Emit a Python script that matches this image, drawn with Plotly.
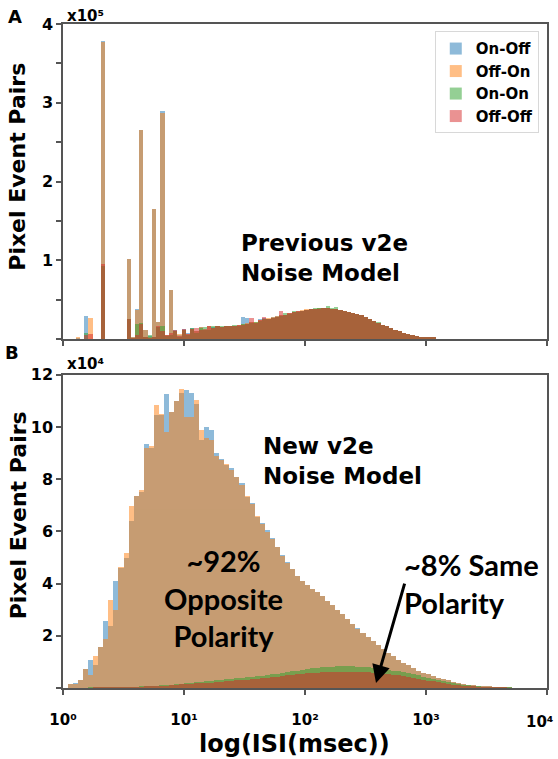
import numpy as np
import plotly.graph_objects as go

series = ["On-Off", "Off-On", "On-On", "Off-Off"]
colors = ["#1f77b4", "#ff7f0e", "#2ca02c", "#d62728"]

# panel A bins (log10 ISI), counts in units of 1e5
top_bin_width = 0.035
top_first_center = 0.0175

top_on_off = [
    0, 0, 0, 0.01, 0, 0.29, 0, 0, 0, 3.79,
    0, 0, 0, 0, 0, 1.02, 0.02, 0.38, 2.65, 0.11,
    0.04, 1.65, 0.22, 2.89, 0.05, 0.62, 0.11, 0.05, 0.13, 0.07,
    0.14, 0.10, 0.15, 0.12, 0.16, 0.15, 0.16, 0.15, 0.16, 0.17,
    0.17, 0.18, 0.28, 0.27, 0.21, 0.20, 0.25, 0.27, 0.25, 0.28,
    0.29, 0.30, 0.31, 0.33, 0.34, 0.35, 0.36, 0.37, 0.38, 0.38,
    0.39, 0.39, 0.39, 0.38, 0.38, 0.37, 0.36, 0.34, 0.33, 0.32,
    0.30, 0.28, 0.25, 0.23, 0.20, 0.18, 0.16, 0.14, 0.12, 0.10,
    0.08, 0.065, 0.05, 0.04, 0.03, 0.02, 0.02, 0.015, 0]
top_off_on = [
    0, 0, 0, 0.015, 0, 0, 0.27, 0, 0, 3.77,
    0, 0, 0, 0, 0, 1.02, 0.02, 0.37, 2.65, 0.11,
    0.03, 1.65, 0.22, 2.87, 0.05, 0.62, 0.10, 0.06, 0.12, 0.06,
    0.13, 0.10, 0.15, 0.11, 0.16, 0.14, 0.16, 0.15, 0.16, 0.17,
    0.16, 0.18, 0.19, 0.20, 0.21, 0.21, 0.24, 0.26, 0.27, 0.28,
    0.29, 0.30, 0.31, 0.33, 0.34, 0.35, 0.37, 0.38, 0.38, 0.38,
    0.39, 0.39, 0.39, 0.38, 0.38, 0.37, 0.36, 0.34, 0.33, 0.32,
    0.30, 0.28, 0.25, 0.23, 0.20, 0.18, 0.16, 0.14, 0.12, 0.10,
    0.08, 0.065, 0.05, 0.04, 0.03, 0.02, 0.02, 0.015, 0]
top_on_on = [
    0, 0, 0, 0, 0, 0.08, 0, 0, 0, 0.93,
    0, 0, 0, 0, 0, 0.25, 0.01, 0.19, 0.20, 0.03,
    0.05, 0.03, 0.15, 0.16, 0.04, 0.05, 0.10, 0.03, 0.11, 0.05,
    0.14, 0.08, 0.14, 0.15, 0.12, 0.16, 0.16, 0.17, 0.16, 0.16,
    0.18, 0.17, 0.19, 0.19, 0.20, 0.21, 0.23, 0.25, 0.26, 0.27,
    0.28, 0.29, 0.33, 0.32, 0.35, 0.34, 0.36, 0.37, 0.38, 0.39,
    0.39, 0.40, 0.42, 0.39, 0.41, 0.37, 0.35, 0.34, 0.33, 0.32,
    0.30, 0.28, 0.25, 0.23, 0.21, 0.18, 0.16, 0.14, 0.12, 0.10,
    0.08, 0.065, 0.05, 0.04, 0.03, 0.02, 0.02, 0.015, 0]
top_off_off = [
    0, 0, 0, 0, 0, 0.05, 0.06, 0, 0, 0.95,
    0, 0, 0, 0, 0, 0.26, 0.01, 0.05, 0.19, 0.02,
    0.01, 0.03, 0.16, 0.10, 0.05, 0.07, 0.11, 0.04, 0.13, 0.06,
    0.13, 0.14, 0.12, 0.13, 0.16, 0.14, 0.17, 0.15, 0.16, 0.17,
    0.17, 0.18, 0.18, 0.19, 0.27, 0.20, 0.24, 0.28, 0.26, 0.27,
    0.28, 0.35, 0.31, 0.33, 0.34, 0.35, 0.36, 0.37, 0.38, 0.38,
    0.38, 0.39, 0.39, 0.38, 0.38, 0.37, 0.35, 0.34, 0.33, 0.32,
    0.30, 0.28, 0.25, 0.23, 0.20, 0.18, 0.16, 0.14, 0.12, 0.10,
    0.08, 0.065, 0.05, 0.04, 0.03, 0.02, 0.02, 0.015, 0]

# panel B bins: 24 per decade, starting at bin 1; counts in units of 1e4
bins_per_decade = 24
first_bin = 1

bot_on_off = [
    0.18, 0.20, 0.30, 0.72, 1.07, 0.90, 1.57, 2.57, 2.40, 4.10,
    4.60, 5.00, 6.40, 7.35, 7.50, 9.35, 9.20, 10.45, 10.45, 11.27,
    10.60, 11.00, 11.30, 11.42, 11.30, 10.90, 9.50, 10.00, 9.90, 9.00,
    8.80, 8.55, 8.43, 8.10, 7.85, 7.33, 7.10, 6.57, 6.33, 6.06,
    5.75, 5.40, 5.10, 4.82, 4.55, 4.32, 4.10, 3.96, 3.82, 3.68,
    3.52, 3.36, 3.18, 3.01, 2.84, 2.66, 2.47, 2.29, 2.11, 1.96,
    1.80, 1.65, 1.51, 1.37, 1.23, 1.10, 0.98, 0.88, 0.78, 0.68,
    0.60, 0.53, 0.46, 0.40, 0.35, 0.30, 0.25, 0.21, 0.17, 0.14,
    0.12, 0.10, 0.085, 0.07, 0.06, 0.05, 0.04, 0.03]
bot_off_on = [
    0.18, 0.18, 0.30, 0.72, 0.50, 1.23, 1.57, 1.88, 3.37, 3.00,
    4.65, 5.20, 7.00, 7.35, 7.60, 9.20, 9.27, 10.85, 10.50, 9.80,
    10.60, 11.00, 11.48, 10.40, 10.40, 11.06, 9.90, 9.60, 9.50, 8.90,
    8.75, 8.60, 8.35, 8.10, 7.80, 7.35, 7.05, 6.60, 6.30, 6.00,
    5.72, 5.40, 5.08, 4.80, 4.55, 4.30, 4.10, 3.95, 3.82, 3.68,
    3.52, 3.35, 3.18, 3.00, 2.83, 2.65, 2.47, 2.28, 2.10, 1.95,
    1.80, 1.65, 1.50, 1.36, 1.23, 1.10, 0.98, 0.88, 0.78, 0.68,
    0.60, 0.53, 0.46, 0.40, 0.35, 0.30, 0.25, 0.21, 0.17, 0.14,
    0.12, 0.10, 0.085, 0.07, 0.06, 0.05, 0.04, 0.03]
bot_on_on = [
    0, 0, 0, 0.01, 0.02, 0.02, 0.03, 0.03, 0.04, 0.04,
    0.05, 0.05, 0.06, 0.06, 0.07, 0.08, 0.09, 0.10, 0.11, 0.13,
    0.14, 0.16, 0.18, 0.20, 0.22, 0.24, 0.25, 0.27, 0.29, 0.31,
    0.33, 0.34, 0.36, 0.38, 0.40, 0.42, 0.44, 0.46, 0.48, 0.51,
    0.53, 0.56, 0.59, 0.62, 0.65, 0.68, 0.71, 0.74, 0.76, 0.78,
    0.80, 0.82, 0.83, 0.84, 0.85, 0.85, 0.84, 0.83, 0.82, 0.80,
    0.78, 0.76, 0.74, 0.71, 0.68, 0.65, 0.62, 0.58, 0.54, 0.49,
    0.44, 0.39, 0.35, 0.31, 0.27, 0.23, 0.20, 0.17, 0.14, 0.12,
    0.10, 0.08, 0.065, 0.05, 0.04, 0.03, 0.02, 0.015]
bot_off_off = [
    0, 0, 0, 0, 0.01, 0.02, 0.03, 0.03, 0.04, 0.04,
    0.05, 0.05, 0.05, 0.06, 0.06, 0.07, 0.07, 0.08, 0.09, 0.10,
    0.12, 0.13, 0.15, 0.17, 0.18, 0.19, 0.20, 0.21, 0.22, 0.24,
    0.25, 0.27, 0.28, 0.30, 0.31, 0.33, 0.35, 0.37, 0.39, 0.41,
    0.43, 0.45, 0.47, 0.49, 0.51, 0.53, 0.55, 0.57, 0.58, 0.60,
    0.61, 0.62, 0.63, 0.63, 0.64, 0.64, 0.63, 0.63, 0.62, 0.61,
    0.60, 0.58, 0.56, 0.54, 0.52, 0.49, 0.46, 0.43, 0.40, 0.36,
    0.33, 0.29, 0.26, 0.23, 0.20, 0.17, 0.14, 0.12, 0.10, 0.085,
    0.07, 0.06, 0.05, 0.04, 0.03, 0.025, 0.02, 0.01]

decade_ticks = [0, 1, 2, 3, 4]
decade_labels = ["10\u2070", "10\u00b9", "10\u00b2", "10\u00b3", "10\u2074"]

top_x = top_first_center + top_bin_width * np.arange(len(top_on_off))
bot_width = 1 / bins_per_decade
bot_x = (np.arange(first_bin, first_bin + len(bot_on_off)) + 0.5) * bot_width

top_sets = [top_on_off, top_off_on, top_on_on, top_off_off]
bot_sets = [bot_on_off, bot_off_on, bot_on_on, bot_off_off]

fig = go.Figure()
for name, col, vals in zip(series, colors, top_sets):
    fig.add_trace(go.Bar(x=top_x, y=vals, width=top_bin_width, name=name,
                         marker=dict(color=col, line_width=0), opacity=0.5,
                         xaxis="x", yaxis="y"))
for name, col, vals in zip(series, colors, bot_sets):
    fig.add_trace(go.Bar(x=bot_x, y=vals, width=bot_width, name=name,
                         marker=dict(color=col, line_width=0), opacity=0.5,
                         xaxis="x2", yaxis="y2", showlegend=False))


def vb(size):
    return dict(family="DejaVu Sans", size=size, color="black", weight="bold")


axis_style = dict(showline=True, linecolor="#555", linewidth=1.5, mirror=True,
                  ticks="outside", ticklen=5, tickwidth=1.5, tickcolor="#555",
                  showgrid=False, zeroline=False, tickfont=vb(16),
                  ticklabeloverflow="allow", automargin=False)

fig.update_layout(
    width=558, height=759,
    plot_bgcolor="white", paper_bgcolor="white",
    margin=dict(l=63, r=11, t=24, b=71, autoexpand=False),
    barmode="overlay", bargap=0,
    xaxis=dict(domain=[0, 1], anchor="y", range=[0, 4], tickvals=decade_ticks,
               showticklabels=False, **axis_style),
    yaxis=dict(domain=[0.5256, 1], anchor="x", range=[0, 4],
               tickvals=[0, 0.5, 1, 1.5, 2, 2.5, 3, 3.5, 4],
               ticktext=["", "", "1", "", "2", "", "3", "", "4"], **axis_style),
    # last decade label is drawn as an annotation so it stays inside the page
    xaxis2=dict(domain=[0, 1], anchor="y2", range=[0, 4], tickvals=decade_ticks,
                ticktext=decade_labels[:-1] + [""], ticklabelstandoff=12,
                **{**axis_style, "tickfont": vb(15)}),
    yaxis2=dict(domain=[0, 0.4718], anchor="x2", range=[0, 12],
                tickvals=[0, 2, 4, 6, 8, 10, 12],
                ticktext=["", "2", "4", "6", "8", "10", "12"], **axis_style),
    legend=dict(x=0.983, y=0.989, xanchor="right", yanchor="top",
                bgcolor="white", bordercolor="#d8d8d8", borderwidth=1,
                font=vb(15), tracegroupgap=2, itemwidth=30),
)

cal = dict(family="Lato", size=29, color="black", weight="bold")
notes = [
    dict(text="A", x=-0.099, y=1.012, font=vb(18)),
    dict(text="B", x=-0.105, y=0.506, font=vb(18)),
    dict(text="x10\u2075", x=0.004, y=1.012, xanchor="left", font=vb(15)),
    dict(text="x10\u2074", x=0.004, y=0.4873, xanchor="left", font=vb(15)),
    dict(text="Pixel Event Pairs", x=-0.093, y=0.785, textangle=-90, font=vb(22)),
    dict(text="Pixel Event Pairs", x=-0.093, y=0.26, textangle=-90, font=vb(22)),
    dict(text="log(ISI(msec))", x=0.478, y=-0.084, font=vb(24)),
    dict(text=decade_labels[-1], x=1.0165, y=-0.0505, xanchor="right", font=vb(15)),
]
for n in notes:
    fig.add_annotation(xref="paper", yref="paper", showarrow=False,
                       xanchor=n.get("xanchor", "center"), yanchor="middle",
                       **{k: v for k, v in n.items() if k != "xanchor"})

fig.add_annotation(xref="x", yref="y", x=1.451, y=1.03, text="Previous v2e<br>Noise Model",
                   showarrow=False, xanchor="left", yanchor="middle", align="left", font=vb(23))
fig.add_annotation(xref="x2", yref="y2", x=1.633, y=8.7, text="New v2e<br>Noise Model",
                   showarrow=False, xanchor="left", yanchor="middle", align="left", font=vb(23))
fig.add_annotation(xref="x2", yref="y2", x=1.33, y=3.45, text="~92%<br>Opposite<br>Polarity",
                   showarrow=False, xanchor="center", yanchor="middle", align="center", font=cal)
fig.add_annotation(xref="x2", yref="y2", x=2.80, y=4.02, text="~8% Same<br>Polarity",
                   showarrow=False, xanchor="left", yanchor="middle", align="left", font=cal)
# arrow pointing at the same-polarity hump
fig.add_annotation(xref="x2", yref="y2", x=2.587, y=0.19, text="", showarrow=True,
                   axref="pixel", ayref="pixel", ax=29, ay=-101,
                   arrowhead=2, arrowsize=1.2, arrowwidth=3, arrowcolor="black")

fig.write_html("out.html", config={"displayModeBar": False},
               post_script="document.body.style.margin='0';")
